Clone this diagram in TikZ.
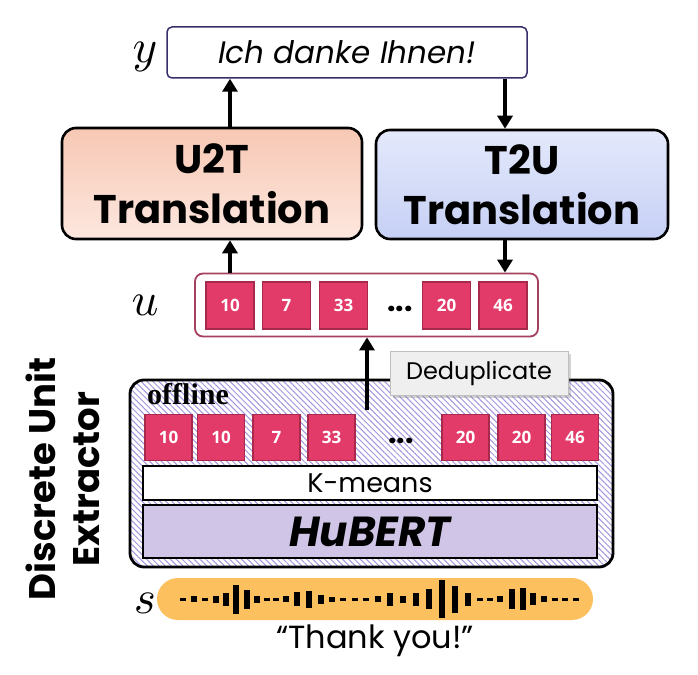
\documentclass[tikz,border=0pt]{standalone}
\usepackage{fontspec}
\usetikzlibrary{arrows.meta,patterns.meta,shadows}
\newfontfamily\pop{Poppins}
\newfontfamily\numf{Open Sans}
\newfontfamily\serifb{Liberation Serif}
\definecolor{unitfill}{HTML}{E33B69}
\definecolor{unitdraw}{HTML}{A72A4D}
\definecolor{ubox}{HTML}{A5405E}
\definecolor{ybox}{HTML}{3B2D6B}
\definecolor{peachtop}{HTML}{F7C8B4}
\definecolor{peachbot}{HTML}{FDE7DF}
\definecolor{bluetop}{HTML}{E4E9FB}
\definecolor{bluebot}{HTML}{C6D0F5}
\definecolor{hatch}{HTML}{A497E0}
\definecolor{hubert}{HTML}{D1C5E7}
\definecolor{pill}{HTML}{FCC15E}
\definecolor{dedup}{HTML}{EFEFEF}
\tikzset{
  arr/.style={line width=3.4pt,-{Triangle[length=13pt,width=15pt]}},
  unitsq/.style={draw=unitdraw,fill=unitfill,line width=1.2pt,minimum width=48pt,minimum height=47pt,inner sep=0pt,text=white,font=\numf\bfseries\fontsize{17}{17}\selectfont},
  lowsq/.style={unitsq,minimum width=47pt,minimum height=46pt},
  transbox/.style={draw,line width=2.6pt,rounded corners=14pt,inner sep=0pt,align=center,font=\pop\bfseries\fontsize{40}{50}\selectfont},
  dots/.style={font=\pop\bfseries\fontsize{30}{30}\selectfont,inner sep=0pt},
  mathlbl/.style={scale=4.7,inner sep=0pt},
}
\begin{document}
\begin{tikzpicture}[x=1pt,y=-1pt]
\useasboundingbox (0,0) rectangle (698,674);
% y box
\node[draw=ybox,line width=1.5pt,rounded corners=5pt,minimum width=360pt,minimum height=51pt,inner sep=0pt,font=\pop\itshape\fontsize{31}{31}\selectfont] (yb) at (347,52.5) {Ich danke Ihnen!};
\node[mathlbl] (ylab) at (145,57) {$y$};
% translation boxes
\node[transbox,top color=peachtop,bottom color=peachbot,minimum width=300pt,minimum height=111pt] (u2t) at (212,183.5) {U2T\\Translation};
\node[transbox,top color=bluetop,bottom color=bluebot,minimum width=292pt,minimum height=109pt] (t2u) at (522,184.5) {T2U\\Translation};
% u box
\node[draw=ubox,line width=1.8pt,rounded corners=8pt,minimum width=343pt,minimum height=63pt,inner sep=0pt] (ub) at (366.5,305) {};
\node[mathlbl] (ulab) at (145,305) {$u$};
\node[unitsq] (u1) at (230,305.5) {10};
\node[unitsq] (u2) at (286.5,305.5) {7};
\node[unitsq] (u3) at (343.5,305.5) {33};
\node[dots] (ud) at (400,309) {...};
\node[unitsq] (u4) at (446.5,305.5) {20};
\node[unitsq] (u5) at (503,305.5) {46};
% arrows top
\coordinate (ax) at (230,0);
\coordinate (bx) at (505,0);
\draw[arr] (ax |- u2t.north) -- (ax |- yb.south);
\draw[arr] (bx |- yb.south) -- (bx |- t2u.north);
\draw[arr] (ax |- ub.north) -- (ax |- u2t.south);
\draw[arr] (bx |- t2u.south) -- (bx |- ub.north);
% offline box
\node[draw,line width=2.8pt,rounded corners=14pt,minimum width=483pt,minimum height=187pt,inner sep=0pt,
  preaction={fill=white},pattern={Lines[angle=-45,distance=4.2pt,line width=1pt]},pattern color=hatch] (off) at (371.5,473.5) {};
\node[anchor=base west,inner sep=0pt,font=\serifb\bfseries\fontsize{30}{30}\selectfont] (offl) at (147,404) {offline};
\coordinate (dstart) at (367,410);
\draw[arr] (dstart) -- (dstart |- ub.south);
\node[draw=gray!50,line width=0.6pt,fill=dedup,drop shadow={shadow xshift=3pt,shadow yshift=-3pt,opacity=0.35},minimum width=178pt,minimum height=44pt,inner sep=0pt,font=\pop\fontsize{24}{24}\selectfont] (dd) at (479,373) {Deduplicate};
\node[lowsq] (l1) at (168.5,437.5) {10};
\node[lowsq] (l2) at (221,437.5) {10};
\node[lowsq] (l3) at (276.5,437.5) {7};
\node[lowsq] (l4) at (331.5,437.5) {33};
\node[dots] (ld) at (401,441) {...};
\node[lowsq] (l5) at (465.5,437.5) {20};
\node[lowsq] (l6) at (521.5,437.5) {20};
\node[lowsq] (l7) at (575,437.5) {46};
\node[draw,fill=white,line width=2pt,minimum width=454pt,minimum height=34pt,inner sep=0pt,font=\pop\fontsize{27}{27}\selectfont] (km) at (370,483) {K-means};
\node[draw,fill=hubert,line width=2pt,minimum width=454pt,minimum height=53pt,inner sep=0pt,font=\pop\bfseries\itshape\fontsize{42}{42}\selectfont] (hb) at (370,531.5) {HuBERT};
% side label
\node[rotate=90,align=center,inner sep=0pt,font=\pop\bfseries\fontsize{37}{44}\selectfont] (due) at (63,479) {Discrete Unit\\Extractor};
% waveform
\node[fill=pill,rounded corners=21pt,minimum width=436pt,minimum height=42pt,inner sep=0pt] (wav) at (375,599) {};
\node[mathlbl] (slab) at (145,603) {$s$};
\foreach \bx/\bh in {183/3,194/6,205/3,216/7,226/13,236/29,247/19,257/7,267/3,276/3,286/6,297/14,309/17,321/9,332/5,343/3,355/3,366/3,378/6,390/13,403/7,416/13,429/20,442/38,455/27,468/13,480/3,490/3,500/6,512/20,523/22,533/12,544/6,555/3,565/3,576/3}{
  \fill (\bx-3.2,599-\bh/2) rectangle (\bx+3.2,599+\bh/2);
}
\node[inner sep=0pt,font=\pop\fontsize{32}{32}\selectfont] (ty) at (375,641) {“Thank you!”};
\end{tikzpicture}
\end{document}
